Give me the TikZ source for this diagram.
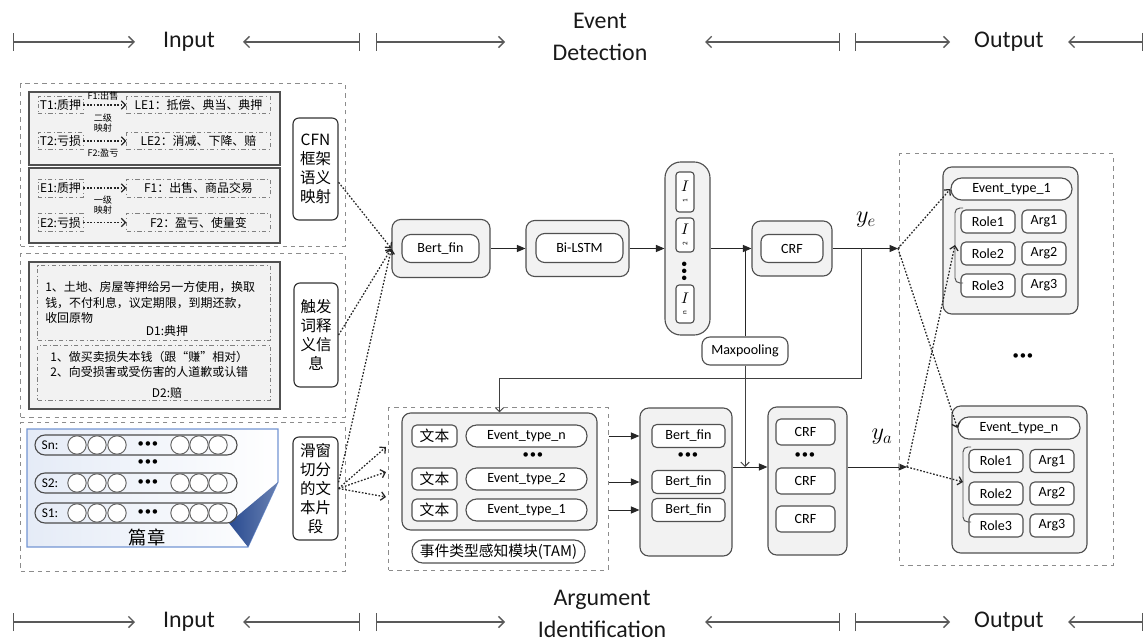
\documentclass[tikz,border=0pt]{standalone}
\usepackage{fontspec}
\setmainfont{Carlito}
\newfontfamily\cjk{Noto Sans CJK SC}
\usetikzlibrary{arrows.meta, positioning, calc}
\definecolor{lgray}{RGB}{242,242,242}
\definecolor{dgray}{RGB}{80,80,80}
\definecolor{docblue}{RGB}{68,114,196}
\definecolor{foldblue}{RGB}{41,75,145}
\newcommand\dotrow{{\fontsize{9}{9}\selectfont\textbullet\kern0.6pt\textbullet\kern0.6pt\textbullet}}

\begin{document}
\begin{tikzpicture}[x=0.025cm, y=-0.025cm,
  sz/.style 2 args={minimum width=#1cm, minimum height=#2cm},
  hfont/.style={font=\fontsize{17}{23}\selectfont, align=center, text=black!90},
  hdr/.style={draw=gray!70!black, line width=1pt},
  panel/.style={draw=gray!90, dashed, line width=0.7pt, inner sep=0pt},
  gsq/.style={draw=dgray, fill=lgray, line width=1.1pt, inner sep=0pt},
  gbox/.style={draw=dgray, fill=lgray, line width=0.8pt, rounded corners=0.22cm, inner sep=0pt},
  wbox/.style={draw=dgray, fill=white, line width=0.8pt, rounded corners=0.12cm,
               inner sep=0pt, font=\fontsize{10}{12}\selectfont},
  pill/.style={wbox, rounded corners=0.27cm},
  ddbox/.style={draw=gray, dash dot, line width=0.7pt, inner sep=0pt,
                font=\cjk\fontsize{8.5}{10}\selectfont},
  vbox/.style={draw=black!80, line width=0.8pt, rounded corners=0.15cm, fill=white,
               align=center, inner sep=0pt, font=\cjk\fontsize{11}{13.5}\selectfont},
  maplbl/.style={font=\cjk\fontsize{6.5}{7.5}\selectfont, align=center, inner sep=0pt},
  cjktxt/.style={font=\cjk\fontsize{8.5}{11}\selectfont, inner sep=0pt},
  seg/.style={draw=black!70, line width=0.8pt, rounded corners=0.25cm, inner sep=0pt},
  tokc/.style={circle, draw=gray!80!black, fill=white, line width=0.7pt,
               minimum size=0.46cm, inner sep=0pt},
  tokbox/.style={wbox, rounded corners=0.08cm, align=center, font=\fontsize{11}{9}\selectfont},
  arr/.style={-{Triangle[length=6pt,width=5pt]}, black!85, line width=0.7pt},
  oarr/.style={-{Straight Barb[length=3pt,width=6pt]}, black!75, line width=0.7pt},
  darr/.style={-{Straight Barb[length=3pt,width=6pt]}, black!85,
               dash pattern=on 1.2pt off 1.2pt, line width=0.9pt}
]
\useasboundingbox (0,0) rectangle (1147,643);

% headers
\node[hfont] (inT)  at (189,42)  {Input};
\node[hfont] (edT)  at (600,37)  {Event\\Detection};
\node[hfont] (outT) at (1009,42) {Output};
\node[hfont] (inB)  at (189,622) {Input};
\node[hfont] (aiB)  at (602,614) {Argument\\Identification};
\node[hfont] (outB) at (1009,622) {Output};
\foreach \yy/\r in {42/t, 622/b} {
  \foreach \xa/\xb/\k in {13/135/1, 376/505/3, 855/950/5} {
    \coordinate (\r\k s) at (\xa,\yy); \coordinate (\r\k e) at (\xb,\yy);
    \draw[hdr, {Bar[width=0.45cm]}-{Straight Barb[length=4pt,width=8pt]}] (\r\k s) -- (\r\k e);
  }
  \foreach \xa/\xb/\k in {243/360/2, 705/840/4, 1068/1143/6} {
    \coordinate (\r\k s) at (\xa,\yy); \coordinate (\r\k e) at (\xb,\yy);
    \draw[hdr, {Straight Barb[length=4pt,width=8pt]}-{Bar[width=0.45cm]}] (\r\k s) -- (\r\k e);
  }
}

% input: CFN frames
\node[panel, sz={8.1}{4.05}] (pCFN) at (183,165) {};
\node[gsq, sz={6.275}{1.825}] (grpA) at (154.5,128.5) {};
\node[gsq, sz={6.275}{1.875}] (grpB) at (154.5,205.5) {};
\node[ddbox, sz={1.125}{0.42}] (t1)  at (60.5,105) {T1:质押};
\node[ddbox, sz={3.575}{0.42}] (le1) at (198.5,105) {LE1：抵偿、典当、典押};
\node[ddbox, sz={1.125}{0.42}] (t2)  at (60.5,141) {T2:亏损};
\node[ddbox, sz={3.575}{0.42}] (le2) at (198.5,141) {LE2：消减、下降、赔};
\draw[darr] (t1) -- (le1);
\draw[darr] (t2) -- (le2);
\node[maplbl] (f1l)  at (103,96)  {F1:出售};
\node[maplbl] (map2) at (103,123) {二级\\映射};
\node[maplbl] (f2l)  at (103,153) {F2:盈亏};
\node[ddbox, sz={1.125}{0.45}] (e1)  at (60.5,188) {E1:质押};
\node[ddbox, sz={3.575}{0.45}] (fr1) at (198.5,188) {F1：出售、商品交易};
\node[ddbox, sz={1.125}{0.45}] (e2)  at (60.5,222.5) {E2:亏损};
\node[ddbox, sz={3.575}{0.45}] (fr2) at (198.5,222.5) {F2：盈亏、使量变};
\draw[darr] (e1) -- (fr1);
\draw[darr] (e2) -- (fr2);
\node[maplbl] (map1) at (103,205) {一级\\映射};
\node[vbox, sz={1.125}{2.55}] (cfn) at (315.5,169) {CFN\\框架\\语义\\映射};

% input: trigger definitions
\node[panel, sz={8.1}{4.075}] (pTrig) at (183,335.5) {};
\node[gsq, sz={6.275}{3.675}] (grpC) at (154.5,335.5) {};
\node[ddbox, sz={5.8}{1.85}] (d1) at (154,303) {};
\node[cjktxt, anchor=west, align=left] (d1t) at (45,302.5)
  {1、土地、房屋等押给另一方使用，换取\\钱，不付利息，议定期限，到期还款，\\收回原物};
\node[cjktxt] (d1l) at (167,331) {D1:典押};
\node[ddbox, sz={5.8}{1.375}] (d2) at (154,372.5) {};
\node[cjktxt, anchor=west, align=left] (d2t) at (50,364.5)
  {1、做买卖损失本钱（跟“赚”相对）\\2、向受损害或受伤害的人道歉或认错};
\node[cjktxt] (d2l) at (167,393) {D2:赔};
\node[vbox, sz={1.1}{2.6}] (trig) at (316,335) {触发\\词释\\义信\\息};

% input: document
\node[panel, sz={8.1}{3.7}] (pSeg) at (183,497) {};
\shade[left color=docblue!14, right color=white, draw=docblue!75, line width=0.8pt]
  (27,429) -- (278,429) -- (278,482) -- (248,547) -- (27,547) -- cycle;
\shade[left color=foldblue, right color=foldblue!70] (278,482) -- (229,523) -- (248,547) -- cycle;
\foreach \yy/\lb in {445/Sn, 483/S2, 513/S1} {
  \node[seg, sz={5.05}{0.5}] (s\lb) at (136,\yy) {};
  \node[font=\fontsize{9.5}{10}\selectfont] (l\lb) at (50,\yy) {\lb:};
  \foreach \cx in {77,97,117,180,199,218}
    \node[tokc] (c\lb\cx) at (\cx,\yy) {};
  \node (d\lb) at (148,\yy) {\dotrow};
}
\node (vd) at (148,463) {\dotrow};
\node[font=\cjk\fontsize{13}{14}\selectfont] (pz) at (147,537) {篇章};
\node[vbox, sz={1.125}{2.575}] (slide) at (315.5,488.5) {滑窗\\切分\\的文\\本片\\段};

% event detection
\node[gbox, sz={2.45}{1.45}] (bertO) at (441,248.5) {};
\node[wbox, rounded corners=0.22cm, sz={1.925}{0.7}] (bertI) at (440.5,248.5) {Bert\_fin};
\node[gbox, sz={2.575}{1.4}] (lstmO) at (577.5,248.5) {};
\node[wbox, rounded corners=0.22cm, sz={2.175}{0.725}] (lstmI) at (579.5,248) {Bi-LSTM};
\node[gbox, rounded corners=0.4cm, sz={1.125}{4.325}] (tstack) at (687.5,248.5) {};
\node[tokbox, sz={0.45}{1}]    (tb1) at (685,192) {$I$\\[-1pt]\rotatebox{90}{\tiny 1}};
\node[tokbox, sz={0.45}{0.85}] (tb2) at (685,235) {$I$\\[-1pt]\rotatebox{90}{\tiny 2}};
\node[font=\fontsize{9}{9}\selectfont, rotate=90] (tbd) at (685,271) {\textbullet\kern0.6pt\textbullet\kern0.6pt\textbullet};
\node[tokbox, sz={0.45}{0.95}] (tbn) at (685,304) {$I$\\[-1pt]\rotatebox{90}{\tiny n}};
\node[gbox, sz={2}{1.375}] (crfO) at (792,248.5) {};
\node[wbox, rounded corners=0.18cm, sz={1.55}{0.7}] (crfI) at (792,248.5) {CRF};
\node[wbox, rounded corners=0.2cm, sz={2.15}{0.7}] (maxp) at (745,351) {Maxpooling};
\draw[arr] (bertO) -- (lstmO);
\draw[arr] (lstmO) -- (tstack);
\draw[arr] (tstack) -- (crfO);
\draw[black!85, line width=0.7pt] (maxp.north) -- (maxp.north |- tstack.east);
\coordinate (yeEnd) at (898,248.5);
\coordinate (yeJ) at (861,248.5);
\coordinate (fb) at (861,378);
\draw[arr] (crfO) -- (yeEnd);
\node[font=\fontsize{17}{17}\selectfont] (ye) at (866,220) {$y_e$};

% input links
\draw[darr] (cfn.330) -- (bertO.west);
\draw[darr] (trig.east) -- (bertO.west);
\draw[darr] (slide.15) -- (bertO.west);
\foreach \yy/\k in {447/a, 472/b, 497/c} {
  \coordinate (fan\k) at (386,\yy);
  \draw[darr] (slide.east) -- (fan\k);
}

% argument identification
\node[panel, sz={5.475}{4.05}] (tamD) at (498.5,489) {};
\node[gbox, sz={4.875}{2.925}] (tamI) at (499.5,471.5) {};
\foreach \i/\yy in {n/436, 2/479, 1/510} {
  \node[wbox, font=\cjk\fontsize{10.5}{12}\selectfont, sz={1.125}{0.55}] (wb\i) at (434.5,\yy) {文本};
  \node[pill, sz={3.025}{0.55}] (et\i) at (526.5,\yy) {Event\_type\_\i};
}
\node (etd) at (533,456) {\dotrow};
\node[pill, font=\cjk\fontsize{10.5}{12}\selectfont, sz={4.325}{0.575}] (tamL) at (498.5,551.5) {事件类型感知模块(TAM)};
\draw[oarr] (yeJ) -- (fb) -| (tamI.north);

\node[gbox, sz={2.3}{3.7}] (bertS) at (686,482) {};
\foreach \i/\yy in {n/436, 2/482, 1/510}
  \node[wbox, sz={1.825}{0.575}] (bf\i) at (688.5,\yy) {Bert\_fin};
\node (bfd) at (688,456) {\dotrow};
\node[gbox, sz={1.975}{3.7}] (crfS) at (807.5,481) {};
\foreach \i/\yy in {n/432, 2/481, 1/519}
  \node[wbox, sz={1.475}{0.65}] (cr\i) at (805.5,\yy) {CRF};
\node (crd) at (805,456) {\dotrow};
\foreach \i in {n,2,1}
  \draw[arr] (bf\i -| tamD.east) -- (bf\i -| bertS.west);
\coordinate (aJ) at (745,467);
\coordinate (yaEnd) at (907,467);
\draw[arr] (aJ -| bertS.east) -- (aJ -| crfS.west);
\draw[oarr] (maxp.south) -- (aJ);
\draw[arr] (aJ -| crfS.east) -- (yaEnd);
\node[font=\fontsize{17}{17}\selectfont] (ya) at (882,437) {$y_a$};

% output
\node[panel, sz={5.325}{10.275}] (pOut) at (1006.5,359.5) {};
\node[gbox, sz={3.375}{3.675}] (outTop) at (1010.5,240.5) {};
\node[pill, sz={3.025}{0.55}] (evT) at (1011.5,189) {Event\_type\_1};
\foreach \i/\yy in {1/221.5, 2/253.5, 3/285.5} {
  \node[wbox, sz={1.35}{0.575}] (roleT\i) at (988,\yy) {Role\i};
  \node[wbox, sz={1.1}{0.575}] (argT\i) at (1044,\yy) {Arg\i};
}
\coordinate (brT) at (955,245);
\draw[dgray, line width=0.7pt, rounded corners=0.12cm] (963,208) -- (955,208) -- (955,283) -- (963,283);
\node (odots) at (1023,357) {\dotrow};
\node[gbox, sz={3.375}{3.675}] (outBot) at (1019.5,479.5) {};
\node[pill, sz={3.05}{0.55}] (evN) at (1019,428) {Event\_type\_n};
\foreach \i/\yy in {1/461, 2/493.5, 3/525.5} {
  \node[wbox, sz={1.35}{0.575}] (roleN\i) at (996,\yy) {Role\i};
  \node[wbox, sz={1.1}{0.575}] (argN\i) at (1052,\yy) {Arg\i};
}
\coordinate (brN) at (963,482);
\draw[dgray, line width=0.7pt, rounded corners=0.12cm] (971,447) -- (963,447) -- (963,522) -- (971,522);
\draw[darr] (yeEnd) -- (evT.west);
\draw[darr] (yeEnd) -- (evN.west);
\draw[darr] (yaEnd) -- (brT);
\draw[darr] (yaEnd) -- (brN);

\end{tikzpicture}
\end{document}
